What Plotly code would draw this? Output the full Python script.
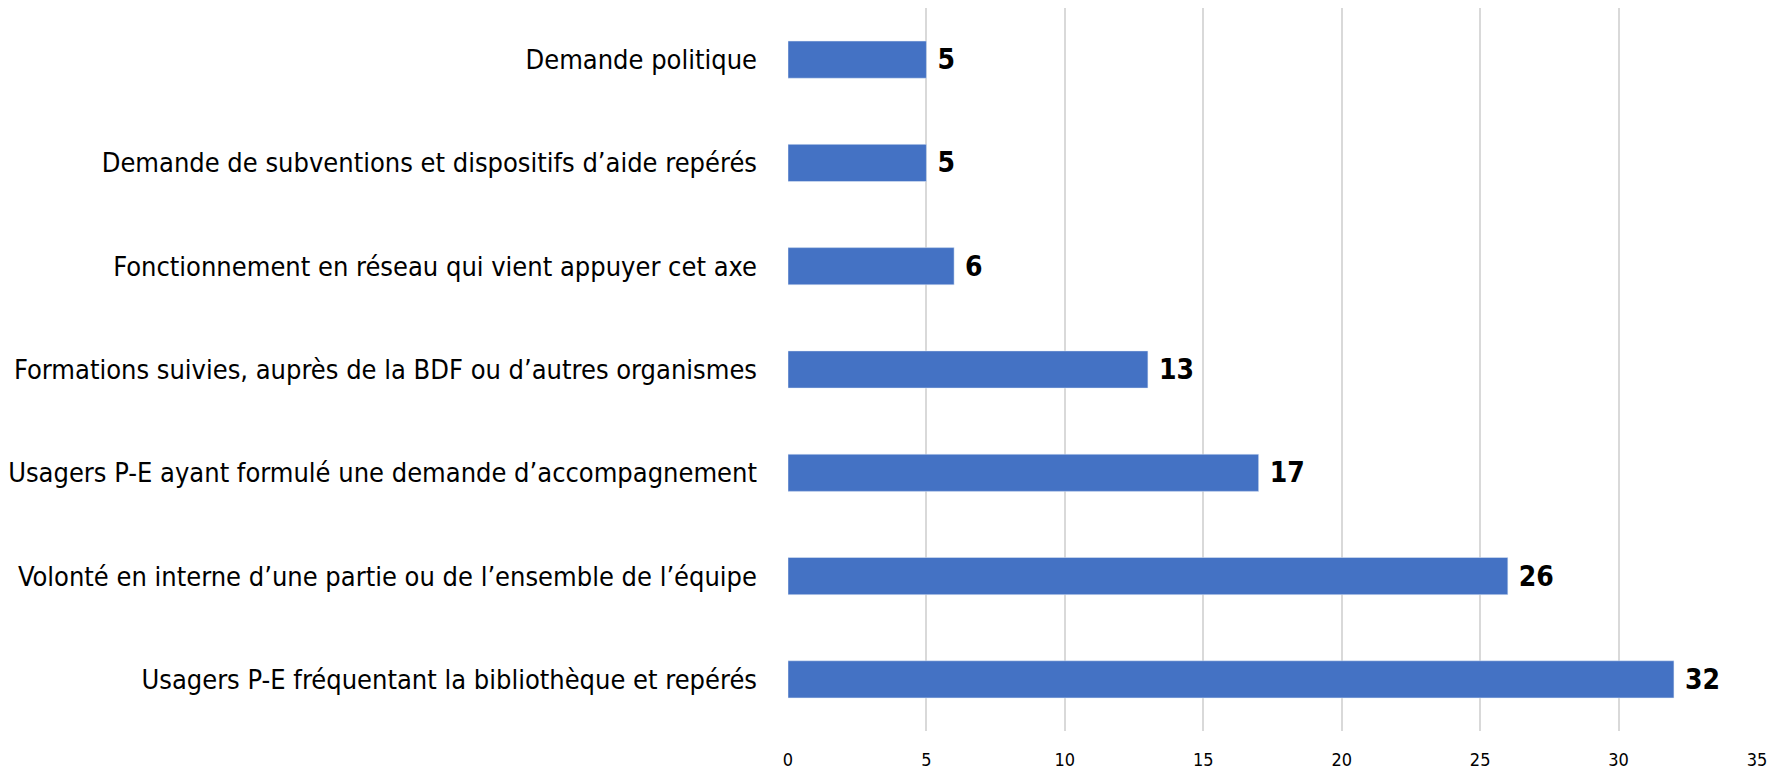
import plotly.graph_objects as go

# categories listed top to bottom, as in the chart
categories = [
    "Demande politique",
    "Demande de subventions et dispositifs d’aide repérés",
    "Fonctionnement en réseau qui vient appuyer cet axe",
    "Formations suivies, auprès de la BDF ou d’autres organismes",
    "Usagers P-E ayant formulé une demande d’accompagnement",
    "Volonté en interne d’une partie ou de l’ensemble de l’équipe",
    "Usagers P-E fréquentant la bibliothèque et repérés",
]
values = [5, 5, 6, 13, 17, 26, 32]
x_ticks = [0, 5, 10, 15, 20, 25, 30, 35]

FONT = "Liberation Sans Narrow, DejaVu Sans Condensed, Arial Narrow, sans-serif"

fig = go.Figure(go.Bar(
    x=values,
    y=categories,
    orientation="h",
    marker=dict(color="#4472C4"),
    text=values,
    texttemplate=" <b>%{text}</b>",
    textposition="outside",
    textfont=dict(family=FONT, size=28, color="#000000"),
    cliponaxis=False,
    hoverinfo="x+y",
))

fig.update_layout(
    width=1785, height=772,
    margin=dict(l=788, r=28, t=8, b=41),
    plot_bgcolor="white",
    paper_bgcolor="white",
    bargap=0.64,
    showlegend=False,
    font=dict(family=FONT, color="#000000"),
)
fig.update_xaxes(
    range=[0, 35],
    tickvals=x_ticks,
    showgrid=True, gridcolor="#d9d9d9", gridwidth=1.5,
    zeroline=False,
    tickfont=dict(family=FONT, size=18, color="#000000"),
    ticklabelstandoff=16,
    automargin=False,
)
fig.update_yaxes(
    autorange="reversed",
    showgrid=False,
    tickfont=dict(family=FONT, size=27, color="#000000"),
    ticklabelstandoff=30,
    automargin=False,
)

# drop the default body margin so the figure fills the window exactly
fig.write_html("out.html", config={"displayModeBar": False},
               post_script="document.body.style.margin='0';")
